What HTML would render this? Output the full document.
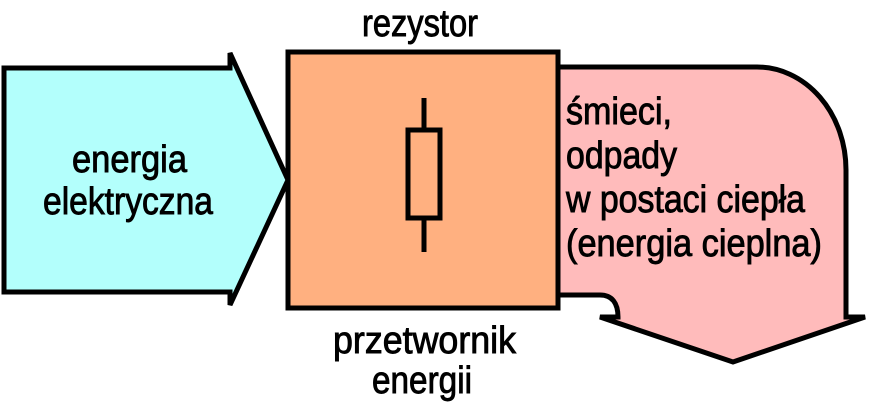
<!DOCTYPE html>
<html><head><meta charset="utf-8"><style>html,body{margin:0;padding:0;background:#fff}svg{display:block}text{font-family:"Liberation Sans",sans-serif;font-size:38px;fill:#000;stroke:#000;stroke-width:0.9}</style></head>
<body>
<svg width="869" height="411" viewBox="0 0 869 411">
<path d="M4 68 H230 V53 L288 180 L230 305 V292 H4 Z" fill="#b3fffc" stroke="#000" stroke-width="5" stroke-linejoin="miter"/>
<path d="M558 67 H757 A89 103 0 0 1 846 170 V317 H865 L733 362 L600 317 H618 C618 303 612 295 600 295 H558 Z" fill="#ffbbbb" stroke="#000" stroke-width="5"/>
<rect x="288" y="52" width="270" height="256" fill="#ffb080" stroke="#000" stroke-width="5"/>
<line x1="424" y1="98" x2="424" y2="252" stroke="#000" stroke-width="5"/>
<rect x="408" y="130" width="32" height="88" fill="#ffb080" stroke="#000" stroke-width="5"/>
<text x="72" y="172" textLength="115" lengthAdjust="spacingAndGlyphs">energia</text>
<text x="43" y="214" textLength="170" lengthAdjust="spacingAndGlyphs">elektryczna</text>
<text x="362" y="36" textLength="116" lengthAdjust="spacingAndGlyphs">rezystor</text>
<text x="333" y="353" textLength="183" lengthAdjust="spacingAndGlyphs">przetwornik</text>
<text x="372" y="393" textLength="100" lengthAdjust="spacingAndGlyphs">energii</text>
<text x="566" y="124" textLength="106" lengthAdjust="spacingAndGlyphs">śmieci,</text>
<text x="566" y="168" textLength="111" lengthAdjust="spacingAndGlyphs">odpady</text>
<text x="566" y="212" textLength="239" lengthAdjust="spacingAndGlyphs">w postaci ciepła</text>
<text x="566" y="256" textLength="256" lengthAdjust="spacingAndGlyphs">(energia cieplna)</text>
</svg>
</body></html>
